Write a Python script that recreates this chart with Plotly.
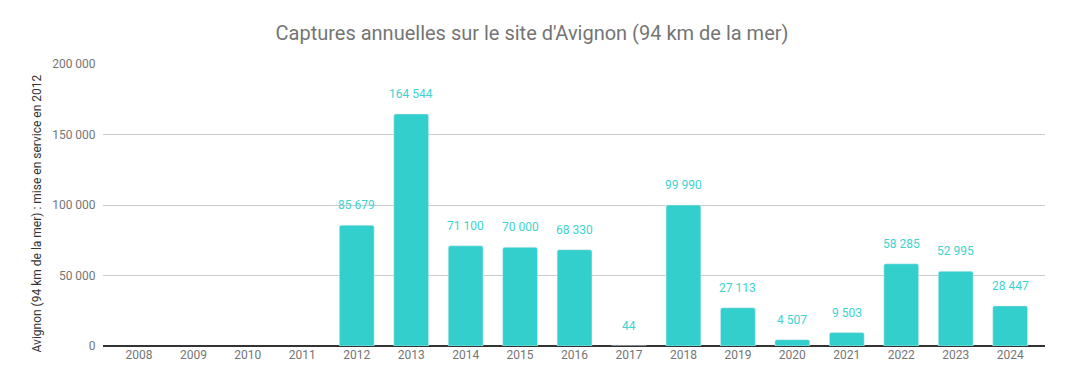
import plotly.graph_objects as go

years = [str(y) for y in range(2008, 2025)]
captures = [None, None, None, None, 85679, 164544, 71100, 70000, 68330, 44,
            99990, 27113, 4507, 9503, 58285, 52995, 28447]
labels = ["", "", "", "", "85 679", "164 544", "71 100", "70 000", "68 330", "44",
          "99 990", "27 113", "4 507", "9 503", "58 285", "52 995", "28 447"]
y_ticks = [0, 50000, 100000, 150000, 200000]
y_ticklabels = ["0", "50 000", "100 000", "150 000", "200 000"]

BAR = "#33CFCC"
LABEL = "#3DD3CF"
GRAY = "#757575"
FONT = "Roboto"

# page body has an 8px margin: figure is sized/positioned to compensate
W, H = 1049, 370
ML, MR, MT, MB = 95, 12, 56, 32
PW = W - ML - MR

fig = go.Figure()
fig.add_trace(go.Bar(
    x=years, y=captures, marker=dict(color=BAR, cornerradius=2),
    width=0.64, hoverinfo="x+y", showlegend=False,
))

for i, (v, t) in enumerate(zip(captures, labels)):
    if v is None:
        continue
    fig.add_annotation(x=i, y=v, xref="x", yref="y", text=t, showarrow=False,
                       yanchor="bottom", yshift=11,
                       font=dict(family=FONT, size=12, color=LABEL))

fig.add_annotation(xref="paper", yref="paper", x=(20 - ML) / PW, y=0.47,
                   text="Avignon (94 km de la mer) : mise en service en 2012",
                   textangle=-90, showarrow=False,
                   font=dict(family=FONT, size=12, color="#333333"))

fig.update_layout(
    width=W, height=H,
    margin=dict(l=ML, r=MR, t=MT, b=MB, autoexpand=False),
    paper_bgcolor="white", plot_bgcolor="white",
    title=dict(text="Captures annuelles sur le site d'Avignon (94 km de la mer)",
               x=(532 - 8) / W, xanchor="center", y=1 - 25 / H, yanchor="middle",
               font=dict(family=FONT, size=20, color=GRAY)),
    font=dict(family=FONT, size=12, color=GRAY),
    xaxis=dict(type="category", range=[-0.66, 16.64], showgrid=False,
               ticks="", tickfont=dict(family=FONT, size=12, color=GRAY),
               showline=False),
    yaxis=dict(range=[0, 200000], tickvals=y_ticks, ticktext=y_ticklabels,
               showgrid=True, gridcolor="#CCCCCC", gridwidth=1,
               zeroline=True, zerolinecolor="#333333", zerolinewidth=1.5,
               ticks="outside", ticklen=4, tickcolor="rgba(0,0,0,0)",
               tickfont=dict(family=FONT, size=12, color=GRAY)),
)

fig.write_html("out.html")
